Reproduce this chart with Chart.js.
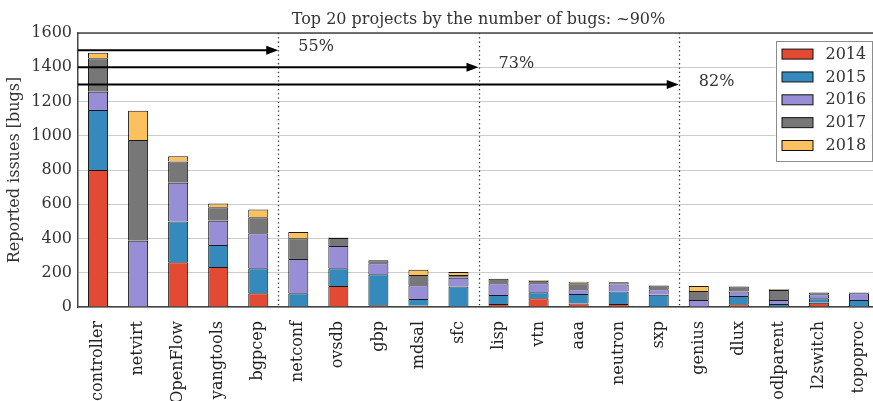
<!DOCTYPE html>
<html><head><meta charset="utf-8">
<script src="https://cdn.jsdelivr.net/npm/chart.js@4/dist/chart.umd.min.js"></script>
<style>
html,body{margin:0;padding:0;overflow:hidden;background:#fff;width:873px;height:401px}
#wrap{position:relative;width:882px;height:401px}
canvas{display:block}
</style></head>
<body><div id="wrap"><canvas id="c" width="882" height="401"></canvas></div>
<script>
// ---- data ----
const categories = ['controller','netvirt','OpenFlow','yangtools','bgpcep','netconf','ovsdb','gbp','mdsal','sfc','lisp','vtn','aaa','neutron','sxp','genius','dlux','odlparent','l2switch','topoproc'];
const years = ['2014','2015','2016','2017','2018'];
const bugs2014 = [800, 0, 261, 234, 80, 0, 123, 10, 8, 0, 17, 51, 21, 17, 0, 0, 16, 0, 25, 0];
const bugs2015 = [350, 0, 239, 128, 146, 80, 103, 181, 39, 119, 53, 35, 55, 74, 72, 0, 48, 17, 26, 41];
const bugs2016 = [107, 387, 226, 142, 204, 200, 130, 64, 80, 52, 68, 52, 27, 41, 31, 41, 27, 24, 23, 39];
const bugs2017 = [195, 588, 123, 78, 94, 121, 47, 18, 60, 16, 27, 16, 35, 12, 22, 52, 28, 58, 10, 5];
const bugs2018 = [33, 171, 31, 23, 46, 37, 3, 0, 31, 17, 0, 4, 10, 0, 0, 30, 0, 4, 0, 0];
const yTickValues = [0, 200, 400, 600, 800, 1000, 1200, 1400, 1600];
const cutIndex = [4.5, 9.5, 14.5];
const arrowLevel = [1500, 1400, 1300];
const shareLabels = ['55%', '73%', '82%'];
const titleText = 'Top 20 projects by the number of bugs: ~90%';
const yTitle = 'Reported issues [bugs]';

const colors = ['#E24A33', '#348ABD', '#988ED5', '#777777', '#FBC15E'];
const series = [bugs2014, bugs2015, bugs2016, bugs2017, bugs2018];
const FONT = "'DejaVu Serif', serif";
const FS = 16;
const TXT = '#333333';

const datasets = years.map((y, i) => ({
  label: y,
  data: series[i].map(v => (v === 0 ? null : v)),
  backgroundColor: colors[i],
  borderColor: 'rgba(0,0,0,0.9)',
  borderWidth: { top: 1, left: 1, right: 1, bottom: 0 },
  borderSkipped: false,
  barPercentage: 0.5,
  categoryPercentage: 1.0
}));

const overlay = {
  id: 'overlay',
  afterDatasetsDraw(chart) {
    const ctx = chart.ctx, a = chart.chartArea;
    const xs = chart.scales.x, ys = chart.scales.y;
    ctx.save();
    // top spine
    ctx.strokeStyle = '#444'; ctx.lineWidth = 1.5;
    ctx.beginPath(); ctx.moveTo(a.left, a.top); ctx.lineTo(a.right, a.top); ctx.stroke();
    // dotted separators
    ctx.strokeStyle = '#333'; ctx.lineWidth = 1.3; ctx.setLineDash([1.3, 3]);
    cutIndex.forEach(ci => {
      const x = Math.round(xs.getPixelForValue(ci)) + 0.5;
      ctx.beginPath(); ctx.moveTo(x, a.top); ctx.lineTo(x, a.bottom); ctx.stroke();
    });
    ctx.setLineDash([]);
    // arrows
    cutIndex.forEach((ci, k) => {
      const xe = xs.getPixelForValue(ci);
      const y = ys.getPixelForValue(arrowLevel[k]);
      ctx.strokeStyle = '#000'; ctx.fillStyle = '#000'; ctx.lineWidth = 2;
      ctx.beginPath(); ctx.moveTo(a.left, y); ctx.lineTo(xe - 10, y); ctx.stroke();
      ctx.beginPath(); ctx.moveTo(xe, y); ctx.lineTo(xe - 12, y - 4.5); ctx.lineTo(xe - 12, y + 4.5); ctx.closePath(); ctx.fill();
      ctx.fillStyle = TXT; ctx.font = FS + 'px ' + FONT; ctx.textAlign = 'left'; ctx.textBaseline = 'middle';
      ctx.fillText(shareLabels[k], xs.getPixelForValue(ci + 0.5), y - 3);
    });
    // legend
    const lw = 96, lh = 120;
    const lx = a.right - 7.5 - lw, ly = a.top + 7.5;
    ctx.fillStyle = '#fff'; ctx.fillRect(lx, ly, lw, lh);
    ctx.strokeStyle = '#8c8c8c'; ctx.lineWidth = 1;
    ctx.strokeRect(Math.round(lx) + 0.5, Math.round(ly) + 0.5, lw, lh);
    years.forEach((yr, i) => {
      const cy = ly + 13.6 + i * 22.85;
      ctx.fillStyle = colors[i];
      ctx.fillRect(lx + 6.5, cy - 5, 31, 10);
      ctx.strokeStyle = '#111'; ctx.lineWidth = 1;
      ctx.strokeRect(lx + 6.5, cy - 5, 31, 10);
      ctx.fillStyle = TXT; ctx.font = FS + 'px ' + FONT; ctx.textAlign = 'left'; ctx.textBaseline = 'middle';
      ctx.fillText(yr, lx + 50, cy + 0.5);
    });
    ctx.restore();
  }
};

new Chart(document.getElementById('c'), {
  type: 'bar',
  data: { labels: categories, datasets },
  plugins: [overlay],
  options: {
    responsive: false,
    animation: false,
    devicePixelRatio: 1,
    layout: { padding: { left: 0, right: 3, top: 0, bottom: 0 } },
    plugins: {
      legend: { display: false },
      tooltip: { enabled: false },
      title: {
        display: true, text: titleText, fullSize: false,
        color: TXT, font: { family: FONT, size: FS, weight: 'normal' },
        padding: { top: 10, bottom: 3.8 }
      }
    },
    scales: {
      x: {
        stacked: true, offset: true,
        grid: { display: false, drawTicks: false },
        border: { display: true, color: '#444', width: 1.5 },
        ticks: { autoSkip: false, minRotation: 90, maxRotation: 90, padding: 14,
          color: '#222', font: { family: FONT, size: FS } },
        afterFit(s) { s.height = 94; s.paddingLeft = 0; s.paddingRight = 0; }
      },
      y: {
        stacked: true, min: 0, max: 1600,
        afterBuildTicks(s) { s.ticks = yTickValues.map(v => ({ value: v })); },
        grid: { color: '#cccccc', lineWidth: 1, drawTicks: false },
        border: { display: true, color: '#444', width: 1.5 },
        ticks: { padding: 6, color: TXT, font: { family: FONT, size: FS },
          callback: v => String(v) },
        title: { display: true, text: yTitle, color: TXT,
          font: { family: FONT, size: FS }, padding: { top: 5, bottom: 0 } },
        afterFit(s) { s.width = 78; }
      }
    }
  }
});
</script>
</body></html>
